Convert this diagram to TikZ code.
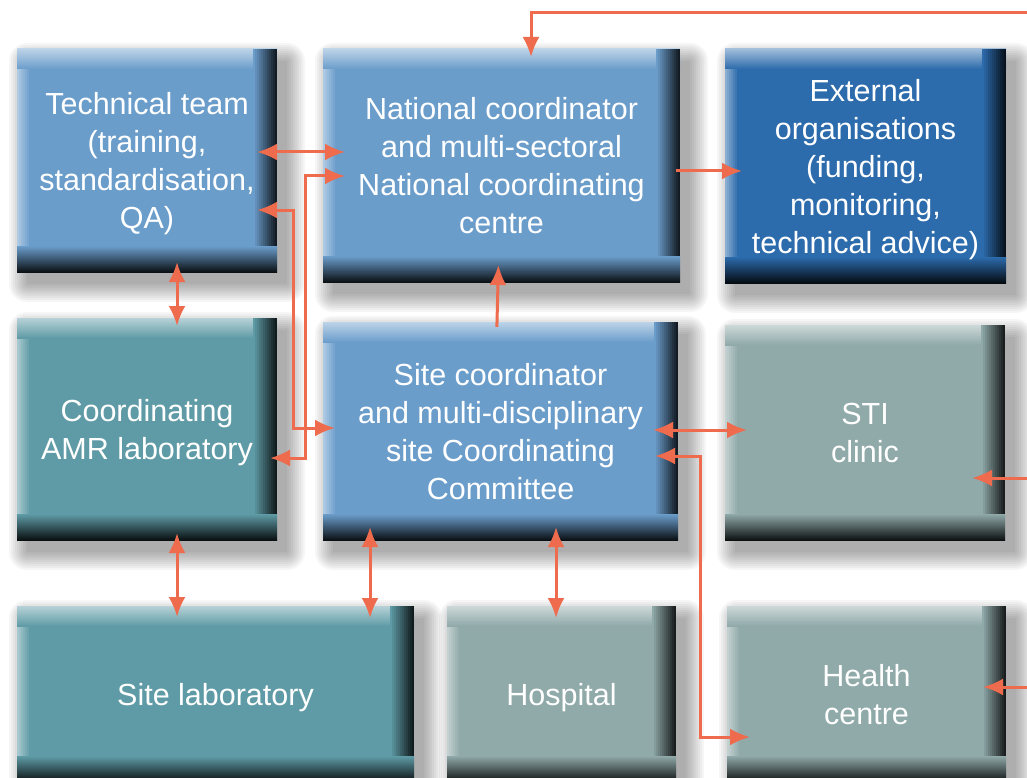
\documentclass[tikz,border=0pt]{standalone}
\usepackage{fontspec}
\setmainfont{Liberation Sans}
\usetikzlibrary{arrows.meta,backgrounds}
\definecolor{arrowred}{HTML}{EE6B4D}
\definecolor{boxblue}{HTML}{6B9DCB}
\definecolor{boxdeep}{HTML}{2C6BAC}
\definecolor{boxteal}{HTML}{5F9BA6}
\definecolor{boxgrey}{HTML}{90A9A9}

\begin{document}
\begin{tikzpicture}[x=1pt,y=-1pt,
  >={Latex[length=20pt,width=17pt]},
  unit/.style={rectangle, inner sep=0pt, outer sep=0pt, fill=#1, text=white, align=center,
    font=\fontsize{30.5}{38}\selectfont, text depth=0pt,
    path picture={
      \foreach \k in {0,...,6}{
        \pgfmathsetmacro\p{int(55+45*\k/6)}
        \fill[#1!\p!white] ([xshift=2*\k pt]path picture bounding box.north west) rectangle ([xshift=2*\k pt+2pt]path picture bounding box.south west);
      }
      \shade[top color=#1!45!white, bottom color=#1] (path picture bounding box.north west) rectangle ([yshift=-20pt]path picture bounding box.north east);
      \foreach \k in {0,...,11}{
        \pgfmathsetmacro\p{int(100-82*\k/11)}
        \fill[#1!\p!black] ([xshift=-24pt+2*\k pt]path picture bounding box.north east) rectangle ([xshift=-22pt+2*\k pt]path picture bounding box.south east);
      }
      \shade[top color=#1, bottom color=#1!10!black] ([yshift=26pt]path picture bounding box.south west) rectangle (path picture bounding box.south east);
    }},
  link/.style={draw=arrowred, line width=3pt}]
\useasboundingbox (0,0) rectangle (1027,778);
\clip (0,0) rectangle (1027,778);

\node[unit=boxblue, minimum width=260pt, minimum height=223pt] (tech) at (147,160.5) {Technical team\\(training,\\standardisation,\\QA)};
\node[unit=boxblue, minimum width=357pt, minimum height=233pt] (natl) at (501.5,165.5) {National coordinator\\and multi-sectoral\\National coordinating\\centre};
\node[unit=boxdeep, minimum width=281pt, minimum height=234pt] (ext) at (865.5,166) {External\\organisations\\(funding,\\monitoring,\\technical advice)};
\node[unit=boxteal, minimum width=260pt, minimum height=222pt] (amr) at (147,429) {Coordinating\\AMR laboratory};
\node[unit=boxblue, minimum width=355pt, minimum height=218pt] (site) at (500.5,431) {Site coordinator\\and multi-disciplinary\\site Coordinating\\Committee};
\node[unit=boxgrey, minimum width=280pt, minimum height=215pt] (sti) at (865,432.5) {STI\\clinic};
\node[unit=boxteal, minimum width=397pt, minimum height=176pt] (sitelab) at (215.5,694) {Site laboratory};
\node[unit=boxgrey, minimum width=229pt, minimum height=176pt] (hosp) at (561.5,694) {Hospital};
\node[unit=boxgrey, minimum width=279pt, minimum height=176pt] (health) at (866.5,694) {Health\\centre};

\begin{scope}[on background layer]
\fill[white] (0,0) rectangle (1027,778);
\foreach \n in {tech,natl,ext,amr,site,sti,sitelab,hosp,health}
  \foreach \k in {0,...,9}
    \fill[black, opacity=0.035, rounded corners=2*\k pt] ([shift={(10-2*\k,12-2*\k)}]\n.north west) rectangle ([shift={(10+2*\k,12+2*\k)}]\n.south east);
\end{scope}

\coordinate (topin) at (1040,13);
\coordinate (stiin) at (1040,478);
\coordinate (healthin) at (1040,687);

\draw[link,->,shorten >=-8pt] (topin) -| ([xshift=29.5pt]natl.north);
\draw[link,<->,shorten <=-20pt,shorten >=-22pt] ([yshift=8.5pt]tech.east) -- ([yshift=8.5pt]tech.east -| natl.west);
\draw[link,<->,shorten <=-7pt,shorten >=-22pt] ([yshift=-29pt]amr.east) -- ++(28,0) |- ([yshift=-10.5pt]natl.west);
\draw[link,<->,shorten <=-20pt,shorten >=-12pt] ([yshift=-49.5pt]tech.east) -- ++(16,0) |- ([yshift=3pt]site.west);
\draw[link,<->,shorten <=-10pt,shorten >=-8pt] ([xshift=30pt]tech.south) -- ([xshift=30pt]amr.north);
\draw[link,->,shorten <=-5pt,shorten >=-17pt] ([xshift=-3.5pt]site.north) -- ([xshift=-3.5pt]natl.south);
\draw[link,->,shorten <=-4pt,shorten >=-17pt] ([yshift=-5.5pt]natl.east) -- ([yshift=-5.5pt]natl.east -| ext.west);
\draw[link,<->,shorten <=-25pt,shorten >=-22pt] ([yshift=1pt]site.east) -- ([yshift=1pt]site.east -| sti.west);
\draw[link,<->,shorten <=-23pt,shorten >=-23pt] ([yshift=-25pt]site.east) -- ++(22,0) |- ([yshift=-43pt]health.west);
\draw[link,->,shorten >=-33pt] (stiin) -- (stiin -| sti.east);
\draw[link,->,shorten >=-23pt] (healthin) -- (healthin -| health.east);
\draw[link,<->,shorten <=-7pt,shorten >=-11pt] ([xshift=30pt]amr.south) -- ([xshift=30pt]amr.south |- sitelab.north);
\draw[link,<->,shorten <=-13pt,shorten >=-12pt] ([xshift=-130.5pt]site.south) -- ([xshift=-130.5pt]site.south |- sitelab.north);
\draw[link,<->,shorten <=-13pt,shorten >=-12pt] ([xshift=55.5pt]site.south) -- ([xshift=55.5pt]site.south |- hosp.north);
\end{tikzpicture}
\end{document}
